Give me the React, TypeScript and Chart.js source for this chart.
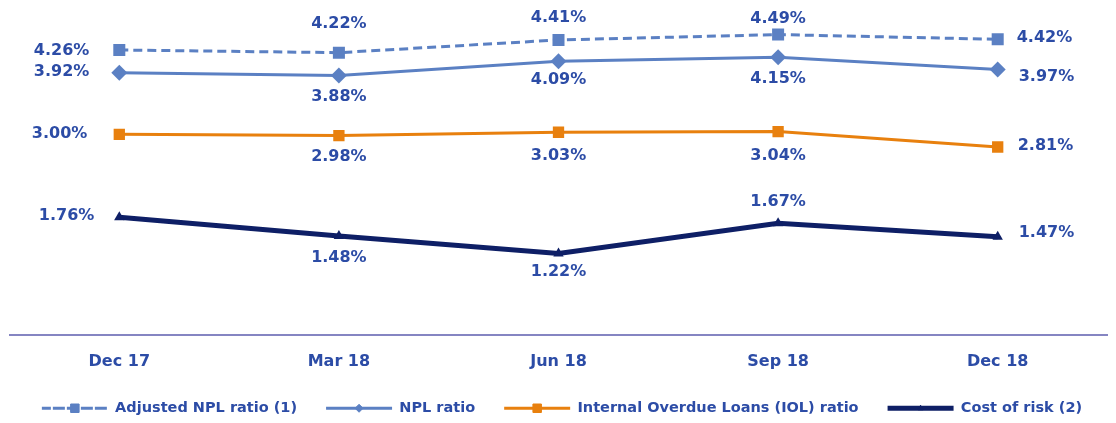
import React, { useEffect, useRef } from 'react';
import { Chart, registerables } from 'chart.js';
import { drawPoint } from 'chart.js/helpers';

Chart.register(...registerables);

// ---- Data ----
const categories = ['Dec 17', 'Mar 18', 'Jun 18', 'Sep 18', 'Dec 18'];
const adjustedNplRatio = [4.26, 4.22, 4.41, 4.49, 4.42];
const nplRatio = [3.92, 3.88, 4.09, 4.15, 3.97];
const iolRatio = [3.0, 2.98, 3.03, 3.04, 2.81];
const costOfRisk = [1.76, 1.48, 1.22, 1.67, 1.47];
const seriesNames = [
  'Adjusted NPL ratio (1)',
  'NPL ratio',
  'Internal Overdue Loans (IOL) ratio',
  'Cost of risk (2)',
];

// ---- Styles ----
const FONT = "'DejaVu Sans', 'Liberation Sans', Arial, sans-serif";
const TEXT_COLOR = '#2C4CA6';
const BLUE = '#5B80C3';
const ORANGE = '#E8800E';
const NAVY = '#0E1F66';
const AXIS_COLOR = '#8585C2';
const LEGEND_BOX_W = 66;

type Off = [number, number, CanvasTextAlign];
const LABEL_OFFSETS: Off[][] = [
  [[-30, 1, 'right'], [0, -29, 'center'], [0, -22, 'center'], [0, -16, 'center'], [19, -1, 'left']],
  [[-30, -1, 'right'], [0, 21, 'center'], [0, 18, 'center'], [0, 22, 'center'], [21, 7, 'left']],
  [[-32, 0, 'right'], [0, 21, 'center'], [0, 24, 'center'], [0, 24, 'center'], [20, -1, 'left']],
  [[-25, -1, 'right'], [0, 22, 'center'], [0, 18, 'center'], [0, -21, 'center'], [21, -4, 'left']],
];

const LEGEND_MARKERS = [
  { pointStyle: 'rect', radius: 6 },
  { pointStyle: 'rectRot', radius: 4 },
  { pointStyle: 'rect', radius: 6 },
  { pointStyle: 'triangle', radius: 3 },
];

const dataLabels = {
  id: 'dataLabels',
  afterDatasetsDraw(chart: any) {
    const ctx = chart.ctx;
    ctx.save();
    ctx.font = `bold 16px ${FONT}`;
    ctx.fillStyle = TEXT_COLOR;
    ctx.textBaseline = 'middle';
    chart.data.datasets.forEach((ds: any, di: number) => {
      const meta = chart.getDatasetMeta(di);
      meta.data.forEach((pt: any, i: number) => {
        const [dx, dy, align] = LABEL_OFFSETS[di][i];
        ctx.textAlign = align;
        ctx.fillText(`${Number(ds.data[i]).toFixed(2)}%`, pt.x + dx, pt.y + dy);
      });
    });
    ctx.restore();
  },
};

const legendMarkers = {
  id: 'legendMarkers',
  afterDraw(chart: any) {
    const legend = chart.legend;
    if (!legend || !legend.legendHitBoxes) return;
    const ctx = chart.ctx;
    legend.legendHitBoxes.forEach((box: any, i: number) => {
      const ds = chart.data.datasets[i];
      const m = LEGEND_MARKERS[i];
      ctx.save();
      ctx.fillStyle = ds.borderColor;
      ctx.strokeStyle = ds.borderColor;
      ctx.lineWidth = 1;
      ctx.setLineDash([]);
      drawPoint(
        ctx,
        { pointStyle: m.pointStyle, radius: m.radius, rotation: 0, borderWidth: 1 } as any,
        box.left + LEGEND_BOX_W / 2,
        box.top + box.height / 2
      );
      ctx.restore();
    });
  },
};

export default function App() {
  const canvasRef = useRef<HTMLCanvasElement | null>(null);

  useEffect(() => {
    document.body.style.margin = '0';
    const canvas = canvasRef.current;
    if (!canvas) return;
    const chart = new Chart(canvas, {
      type: 'line',
      data: {
        labels: categories,
        datasets: [
          {
            label: seriesNames[0],
            data: adjustedNplRatio,
            borderColor: BLUE,
            backgroundColor: BLUE,
            borderWidth: 3,
            borderDash: [9, 5],
            pointStyle: 'rect',
            pointRadius: 8.5,
            pointBorderWidth: 0,
            pointBackgroundColor: BLUE,
            tension: 0,
          },
          {
            label: seriesNames[1],
            data: nplRatio,
            borderColor: BLUE,
            backgroundColor: BLUE,
            borderWidth: 3,
            pointStyle: 'rectRot',
            pointRadius: 8,
            pointBorderWidth: 0,
            pointBackgroundColor: BLUE,
            tension: 0,
          },
          {
            label: seriesNames[2],
            data: iolRatio,
            borderColor: ORANGE,
            backgroundColor: ORANGE,
            borderWidth: 3,
            pointStyle: 'rect',
            pointRadius: 8,
            pointBorderWidth: 0,
            pointBackgroundColor: ORANGE,
            tension: 0,
          },
          {
            label: seriesNames[3],
            data: costOfRisk,
            borderColor: NAVY,
            backgroundColor: NAVY,
            borderWidth: 5,
            pointStyle: 'triangle',
            pointRadius: 6,
            pointBorderWidth: 0,
            pointBackgroundColor: NAVY,
            tension: 0,
          },
        ],
      },
      options: {
        responsive: false,
        animation: false,
        layout: { padding: { left: 9.5, right: 1.5, top: 3, bottom: -2.5 } },
        scales: {
          x: {
            offset: true,
            grid: { display: false, drawTicks: false },
            border: { display: true, color: AXIS_COLOR, width: 2 },
            ticks: {
              color: TEXT_COLOR,
              font: { family: FONT, size: 16, weight: 'bold' },
              padding: 17,
            },
            afterFit(scale: any) {
              scale.height = 37;
            },
          },
          y: { display: false, min: 0, max: 4.88 },
        },
        plugins: {
          legend: {
            position: 'bottom',
            labels: {
              boxWidth: LEGEND_BOX_W,
              boxHeight: 0,
              padding: 29,
              color: TEXT_COLOR,
              font: { family: FONT, size: 14.5, weight: 'bold' },
            },
          },
          tooltip: { enabled: false },
        },
      },
      plugins: [dataLabels, legendMarkers],
    } as any);
    return () => chart.destroy();
  }, []);

  return (
    <div style={{ width: 1116, height: 423, background: '#fff' }}>
      <canvas ref={canvasRef} width={1116} height={423} />
    </div>
  );
}
